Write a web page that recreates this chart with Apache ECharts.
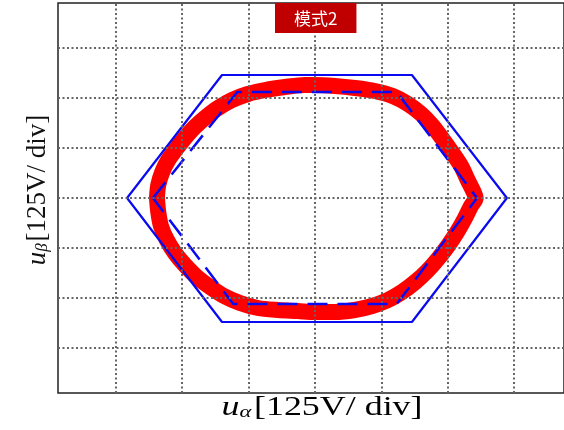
<!DOCTYPE html>
<html>
<head>
<meta charset="utf-8">
<script src="https://cdn.jsdelivr.net/npm/echarts@6/dist/echarts.min.js"></script>
<style>
  html, body { margin: 0; padding: 0; background: #fff; }
  #chart { width: 564px; height: 430px; }
</style>
</head>
<body>
<div id="chart"></div>
<script>
  // 网格刻度 (div)
  var xTicks = [-3, -2, -1, 0, 1, 2, 3]
  var yTicks = [-3, -2, -1, 0, 1, 2, 3]

  // 电压轨迹 (红色)
  var trajAlpha = [-2.38, -2.36, -2.30, -2.21, -2.09, -1.96, -1.81, -1.64, -1.46, -1.25, -1.01, -0.75, -0.45, -0.15, 0,
    0.30, 0.60, 0.90, 1.17, 1.40, 1.60, 1.76, 1.91, 2.06, 2.20, 2.30, 2.39, 2.42,
    2.35, 2.26, 2.14, 2.00, 1.85, 1.69, 1.51, 1.31, 1.10, 0.86, 0.60, 0.30, 0,
    -0.26, -0.56, -0.86, -1.13, -1.37, -1.58, -1.78, -1.96, -2.11, -2.23, -2.32, -2.36, -2.38]
  var trajBeta = [0, 0.26, 0.52, 0.76, 0.98, 1.20, 1.42, 1.62, 1.80, 1.96, 2.08, 2.16, 2.22, 2.26, 2.26,
    2.24, 2.20, 2.14, 2.04, 1.88, 1.68, 1.46, 1.20, 0.92, 0.64, 0.36, 0.12, 0,
    -0.16, -0.40, -0.68, -0.96, -1.22, -1.46, -1.68, -1.88, -2.04, -2.16, -2.24, -2.28, -2.28,
    -2.26, -2.24, -2.20, -2.10, -1.96, -1.78, -1.58, -1.34, -1.10, -0.84, -0.56, -0.28, 0]

  // 外六边形 (实线)
  var outerAlpha = [-2.83, -1.40, 1.46, 2.89, 1.46, -1.40, -2.83]
  var outerBeta = [0, 2.46, 2.46, 0, -2.48, -2.48, 0]

  // 内六边形 (虚线)
  var innerAlpha = [-2.44, -1.17, 1.23, 2.44, 1.23, -1.23, -2.44]
  var innerBeta = [0, 2.12, 2.12, 0, -2.12, -2.12, 0]

  function pairs(xs, ys) {
    return xs.map(function(x, i) { return [x, ys[i]] })
  }

  var chart = echarts.init(document.getElementById('chart'))

  var gridLines = xTicks.map(function(v) { return { xAxis: v } })
    .concat(yTicks.map(function(v) { return { yAxis: v } }))

  var axisNameRich = {
    u: { fontFamily: 'Liberation Serif', fontStyle: 'italic', fontSize: 27, color: '#111' },
    sub: { fontFamily: 'Liberation Serif', fontStyle: 'italic', fontSize: 17, color: '#111', padding: [10, 2, 0, 0] },
    t: { fontFamily: 'Liberation Serif', fontSize: 27, color: '#111' }
  }

  var options = {
    animation: false,
    title: {
      text: '模式2',
      left: 275,
      top: 3,
      backgroundColor: '#c00000',
      padding: [7, 19, 6, 19],
      textStyle: {
        color: '#ffffff',
        fontFamily: 'Noto Sans CJK SC',
        fontSize: 17,
        fontWeight: 'normal'
      }
    },
    // x 轴标题在原图中横向拉伸
    graphic: [
      {
        type: 'text',
        x: 322,
        y: 394,
        scaleX: 1.33,
        style: {
          text: '{u|u}{sub|α}{t|[125V/ div]}',
          rich: axisNameRich,
          textAlign: 'center',
          textVerticalAlign: 'top'
        }
      }
    ],
    grid: {
      show: true,
      left: 58,
      top: 3,
      right: 0,
      height: 390,
      borderColor: '#222',
      borderWidth: 1.5
    },
    xAxis: {
      type: 'value',
      min: -3.87,
      max: 3.75,
      axisLine: { show: false },
      axisTick: { show: false },
      axisLabel: { show: false },
      splitLine: { show: false }
    },
    yAxis: {
      type: 'value',
      min: -3.9,
      max: 3.9,
      axisLine: { show: false },
      axisTick: { show: false },
      axisLabel: { show: false },
      splitLine: { show: false },
      name: '{u|u}{sub|β}{t|[125V/ div]}',
      nameLocation: 'middle',
      nameGap: 7,
      nameTextStyle: { rich: axisNameRich, padding: [0, 0, 0, 16] }
    },
    series: [
      {
        name: 'grid',
        type: 'line',
        data: [],
        markLine: {
          silent: true,
          symbol: 'none',
          label: { show: false },
          lineStyle: { color: '#666', width: 2, type: [2, 2.5] },
          data: gridLines
        }
      },
      {
        name: 'traj',
        type: 'line',
        data: pairs(trajAlpha, trajBeta),
        symbol: 'none',
        smooth: 0.3,
        lineStyle: { color: '#ff0000', width: 16, cap: 'round', join: 'round' }
      },
      {
        name: 'outer',
        type: 'line',
        data: pairs(outerAlpha, outerBeta),
        symbol: 'none',
        lineStyle: { color: '#0a0af0', width: 2.2 }
      },
      {
        name: 'inner',
        type: 'line',
        data: pairs(innerAlpha, innerBeta),
        symbol: 'none',
        lineStyle: { color: '#0a0af0', width: 2.5, type: [20, 10] }
      }
    ]
  }

  chart.setOption(options)
</script>
</body>
</html>
